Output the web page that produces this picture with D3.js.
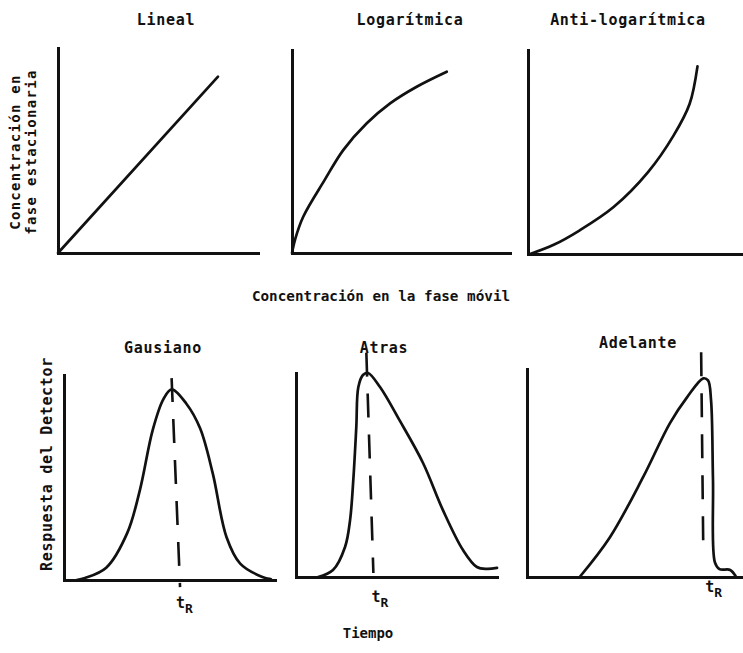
<!DOCTYPE html>
<html><head><meta charset="utf-8">
<script src="https://cdn.jsdelivr.net/npm/d3@7"></script>
<style>
body{margin:0;background:#fff}
text{font-family:"DejaVu Sans Mono",monospace;font-weight:bold;fill:#111}
</style>
</head><body><svg id="c" width="743" height="653"></svg>
<script>
// ---- data (panel units 0..10) ----
const titles = ["Lineal","Logarítmica","Anti-logarítmica","Gausiano","Atras","Adelante"];
const linealX = [0, 8.0];
const linealY = [0, 8.6];
const logX = [0, 0.15, 0.52, 1.5, 2.35, 3.43, 4.5, 5.72, 7.1];
const logY = [0, 0.7, 1.8, 3.6, 5.07, 6.39, 7.37, 8.19, 8.93];
const antiX = [0.1, 1.2, 2.4, 4.0, 5.6, 6.8, 7.55, 7.92];
const antiY = [0, 0.45, 1.15, 2.3, 4.0, 5.8, 7.35, 9.2];
const gaussX = [0.6, 1.0, 2.0, 3.0, 3.6, 4.2, 4.7, 5.1, 5.8, 6.45, 7.05, 7.7, 8.35, 9.4, 9.8];
const gaussY = [0, 0.1, 0.6, 2.3, 4.4, 7.3, 8.8, 9.3, 8.6, 7.4, 5.2, 2.1, 0.8, 0.15, 0.05];
const atrasX = [1.1, 1.84, 2.44, 2.69, 2.86, 3.0, 3.1, 3.33, 3.58, 4.18, 5.17, 6.32, 7.31, 8.31, 9.0, 9.5, 10.0];
const atrasY = [0, 0.34, 1.47, 2.79, 4.9, 7.35, 9.3, 9.9, 10.0, 9.31, 7.65, 5.59, 3.28, 1.32, 0.49, 0.4, 0.45];
const adelX = [2.45, 3.85, 5.4, 6.65, 7.45, 8.2, 8.42, 8.56, 8.65, 8.74, 8.95, 9.45, 9.7];
const adelY = [0, 1.9, 4.8, 7.4, 8.65, 9.55, 9.45, 8.5, 4.7, 0.7, 0.38, 0.34, 0.05];
// dashed retention-time markers: [xTop, yTop, xBottom, yBottom]
const dashGauss = [5.1, 9.85, 5.5, -0.35];
const dashAtras = [3.5, 11.0, 3.85, 0.2];
const dashAdel  = [8.1, 10.8, 8.2, 1.2];
const tRLabel = "t", tRSub = "R";
const yLabelTop = ["Concentración en", "fase estacionaria"];
const yLabelBottom = "Respuesta del Detector";
const xLabelTop = "Concentración en la fase móvil";
const xLabelBottom = "Tiempo";

// ---- layout ----
const boxes = [
  {x0:58,  x1:258, yB:253, yT:48},
  {x0:292, x1:510, yB:253, yT:50},
  {x0:528, x1:742, yB:254, yT:50},
  {x0:64,  x1:275, yB:580, yT:375},
  {x0:296, x1:497, yB:577, yT:373},
  {x0:527, x1:742, yB:577, yT:369}
];
const titlePos = [[166,25],[410,25],[628,25],[163,353],[384,353],[638,348]];
const curves = [[linealX,linealY],[logX,logY],[antiX,antiY],[gaussX,gaussY],[atrasX,atrasY],[adelX,adelY]];
const dashes = [null,null,null,dashGauss,dashAtras,dashAdel];
const tRoff = [null,null,null,[-4,608],[-2,602],[2,592]];

const svg = d3.select("#c");

boxes.forEach((b,i)=>{
  const x = d3.scaleLinear().domain([0,10]).range([b.x0, b.x1]);
  const y = d3.scaleLinear().domain([0,10]).range([b.yB, b.yT]);
  const g = svg.append("g");
  // axes
  const ax = g.append("g").attr("transform",`translate(0,${b.yB})`)
    .call(d3.axisBottom(x).ticks(0).tickSizeOuter(0));
  const ay = g.append("g").attr("transform",`translate(${b.x0},0)`)
    .call(d3.axisLeft(y).ticks(0).tickSizeOuter(0));
  [ax,ay].forEach(a=>a.select(".domain").attr("stroke","#111").attr("stroke-width",3).attr("stroke-linecap","square"));
  // curve
  const [cx,cy] = curves[i];
  const pts = cx.map((v,k)=>[v,cy[k]]);
  g.append("path").datum(pts)
    .attr("d", d3.line().x(d=>x(d[0])).y(d=>y(d[1])).curve(i===0?d3.curveLinear:d3.curveCatmullRom.alpha(0.5)))
    .attr("fill","none").attr("stroke","#111").attr("stroke-width",2.7)
    .attr("stroke-linejoin","round").attr("stroke-linecap","round");
  // title
  g.append("text").attr("x",titlePos[i][0]).attr("y",titlePos[i][1])
    .attr("text-anchor","middle").attr("font-size",15).attr("letter-spacing",0.7)
    .text(titles[i]);
  // dashed marker
  const d = dashes[i];
  if(d){
    g.append("line").attr("x1",x(d[0])).attr("y1",y(d[1])).attr("x2",x(d[2])).attr("y2",y(d[3]))
      .attr("stroke","#111").attr("stroke-width",2.6).attr("stroke-dasharray","24,17");
    const t = g.append("text").attr("x",x(d[2])+tRoff[i][0]).attr("y",tRoff[i][1]).attr("font-size",15);
    t.append("tspan").text(tRLabel);
    t.append("tspan").attr("font-size",13).attr("dy",5).text(tRSub);
  }
});

// axis labels
const yl = svg.append("text").attr("transform","translate(0,152) rotate(-90)")
  .attr("text-anchor","middle").attr("font-size",14).attr("letter-spacing",1.3);
yl.append("tspan").attr("x",0).attr("y",20).text(yLabelTop[0]);
yl.append("tspan").attr("x",0).attr("y",36).text(yLabelTop[1]);
svg.append("text").attr("transform","translate(52,464) rotate(-90)")
  .attr("text-anchor","middle").attr("font-size",15).attr("letter-spacing",0.7).text(yLabelBottom);
svg.append("text").attr("x",381).attr("y",301).attr("text-anchor","middle")
  .attr("font-size",14.3).attr("letter-spacing",0).text(xLabelTop);
svg.append("text").attr("x",368).attr("y",638).attr("text-anchor","middle")
  .attr("font-size",14).text(xLabelBottom);
</script></body></html>
